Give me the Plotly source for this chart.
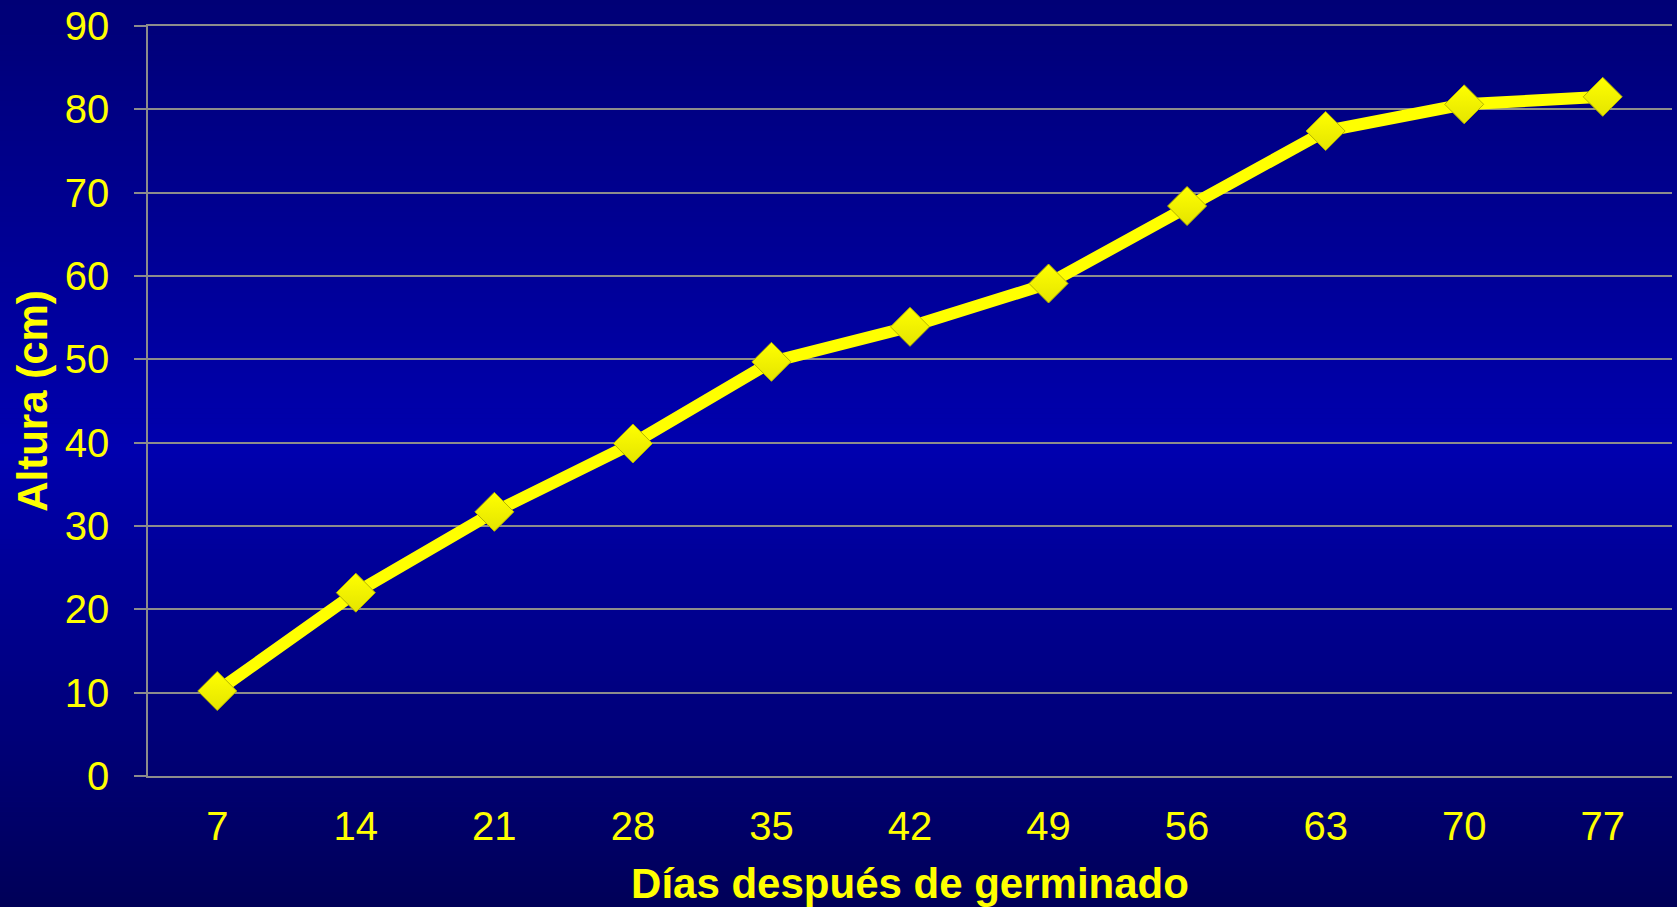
import plotly.graph_objects as go

# Data
dias = ["7", "14", "21", "28", "35", "42", "49", "56", "63", "70", "77"]
altura = [10.2, 22.0, 31.7, 39.9, 49.7, 53.9, 59.1, 68.4, 77.4, 80.6, 81.5]
y_ticks = [0, 10, 20, 30, 40, 50, 60, 70, 80, 90]

W, H = 1677, 907
ML, MR, MT, MB = 148, 5, 26, 131
plot_h = H - MT - MB

YELLOW = "#ffff00"
GRID = "#8c8c8c"
FONT = "Liberation Sans, Arial, sans-serif"

# Vertical background gradient (pixel y from top -> blue component)
stops = [(0, 0x76), (450, 0xae), (907, 0x58)]


def blue_at(py):
    for (y0, c0), (y1, c1) in zip(stops[:-1], stops[1:]):
        if y0 <= py <= y1:
            t = (py - y0) / (y1 - y0)
            return round(c0 + t * (c1 - c0))
    return stops[-1][1]


shapes = []
n_bands = 180
band = H / n_bands
for i in range(n_bands):
    top_px = i * band
    bot_px = (i + 1) * band + 0.6
    mid = (top_px + bot_px) / 2
    b = blue_at(mid)
    shapes.append(dict(
        type="rect", xref="paper", yref="paper", layer="below",
        x0=-ML / (W - ML - MR) - 0.01, x1=1 + MR / (W - ML - MR) + 0.01,
        y0=(H - MB - bot_px) / plot_h, y1=(H - MB - top_px) / plot_h,
        fillcolor=f"rgb(0,0,{b})", line=dict(width=0),
    ))

fig = go.Figure()
fig.add_trace(go.Scatter(
    x=dias, y=altura, mode="lines+markers",
    line=dict(color=YELLOW, width=12),
    marker=dict(symbol="diamond", size=30, color=YELLOW,
                gradient=dict(type="vertical", color="#e4e400"),
                line=dict(color="#b4b400", width=1)),
    showlegend=False, hoverinfo="x+y",
))

fig.update_layout(
    width=W, height=H,
    margin=dict(l=ML, r=MR, t=MT, b=MB, pad=0, autoexpand=False),
    paper_bgcolor="#000090",
    plot_bgcolor="rgba(0,0,0,0)",
    shapes=shapes,
    font=dict(family=FONT, color=YELLOW),
    xaxis=dict(
        type="category", range=[-0.5, len(dias) - 0.5],
        automargin=False,
        showgrid=False, zeroline=False,
        showline=True, linecolor=GRID, linewidth=1.5, mirror=True,
        ticks="", tickfont=dict(size=40, color=YELLOW, family=FONT),
        ticklabelstandoff=14,
        title=dict(text="<b>Días después de germinado</b>",
                   font=dict(size=42, color=YELLOW, family=FONT), standoff=22),
    ),
    yaxis=dict(
        range=[0, 90], tickvals=y_ticks,
        automargin=False,
        showgrid=True, gridcolor=GRID, gridwidth=1.5,
        zeroline=False,
        showline=True, linecolor=GRID, linewidth=1.5,
        ticks="outside", ticklen=12, tickcolor=GRID, tickwidth=1.5,
        tickfont=dict(size=40, color=YELLOW, family=FONT),
        ticklabelstandoff=17,
        title=dict(text="<b>Altura (cm)</b>",
                   font=dict(size=42, color=YELLOW, family=FONT), standoff=4),
    ),
)

fig.write_html(
    "out.html",
    config={"displayModeBar": False},
    post_script="document.body.style.margin='0';document.body.style.overflow='hidden';",
)
